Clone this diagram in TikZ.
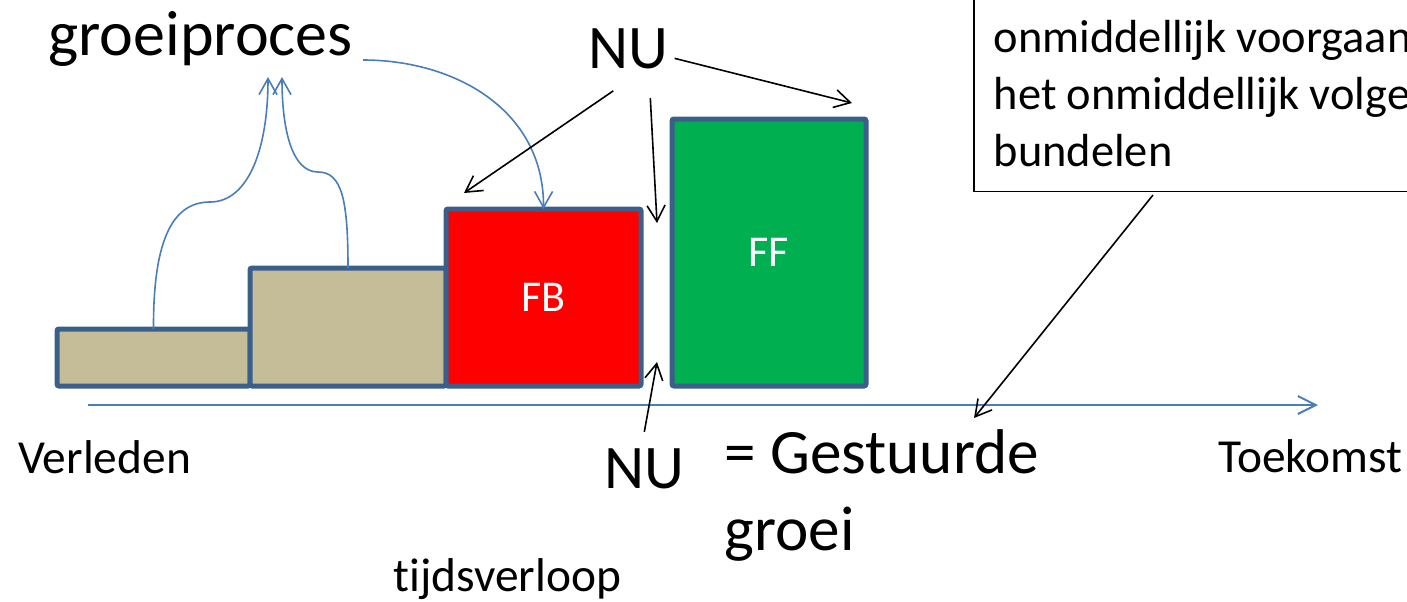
\documentclass[tikz,border=0pt]{standalone}
\usepackage{fontspec}
\setmainfont{Carlito}[Ligatures=NoCommon]
\usetikzlibrary{arrows.meta}
\definecolor{rand}{HTML}{3A5F8B}
\definecolor{zand}{HTML}{C4BD97}
\definecolor{rood}{HTML}{FF0000}
\definecolor{groen}{HTML}{00B050}
\definecolor{blauw}{HTML}{4A7EBB}
\tikzset{
  blok/.style={draw=rand, line width=2.5pt, rounded corners=1pt, inner sep=0pt, outer sep=0pt, text=white, font=\fontsize{22}{26}\selectfont},
  pijl/.style={draw=black, line width=0.8pt, -{Straight Barb[length=8pt,width=9pt]}},
  bpijl/.style={draw=blauw, line width=0.8pt, -{Straight Barb[length=8pt,width=9pt]}},
  tijdas/.style={draw=blauw, line width=1pt, -{Straight Barb[length=9pt,width=9pt]}},
  groot/.style={inner sep=0pt, font=\fontsize{31}{38.5}\selectfont},
  lbl/.style={inner sep=0pt, font=\fontsize{23.7}{28}\selectfont},
  kader/.style={draw=black, line width=0.75pt, inner xsep=10pt, inner ysep=12pt, text width=300pt, align=flush left, font=\fontsize{23.2}{28.5}\selectfont}
}

\begin{document}
\begin{tikzpicture}[x=0.5pt,y=-0.5pt]
  \useasboundingbox (0,0) rectangle (1407,601);
  \clip (0,0) rectangle (1407,601);

  % blokken
  \node[blok, fill=zand, minimum width=96.5pt, minimum height=28.5pt] (b1) at (153.5,357.5) {};
  \node[blok, fill=zand, minimum width=98pt, minimum height=59pt] (b2) at (348,327) {};
  \node[blok, fill=rood, minimum width=97.5pt, minimum height=88.5pt] (fb) at (543.5,297.5) {FB};
  \node[blok, fill=groen, minimum width=97pt, minimum height=133.5pt] (ff) at (769,252.5) {FF};

  % tijdas
  \coordinate (verleden) at (88,405);
  \coordinate (toekomst) at (1318,405);
  \draw[tijdas] (verleden) -- (toekomst);

  \node[lbl, anchor=base west] (lv) at (18,473) {Verleden};
  \node[lbl, anchor=base west] (lt) at (1218,472) {Toekomst};
  \node[lbl, anchor=base west] (tv) at (393,591) {tijdsverloop};

  \node[groot, anchor=base west, font=\fontsize{32}{38.5}\selectfont] (groei) at (48,55) {groeiproces};
  \node[groot, anchor=base west] (nuboven) at (588,68) {NU};
  \node[groot, anchor=base west] (nuonder) at (604,488) {NU};
  \node[groot, anchor=base west, align=left, font=\fontsize{31.6}{38.5}\selectfont] (gestuurd) at (724,550) {= Gestuurde\\groei};

  \node[kader, anchor=south west] (uitleg) at (973,192) {\mbox{}\\onmiddellijk voorgaan\\het onmiddellijk volge\\bundelen};

  % groeipijlen
  \draw[bpijl] (b1.north) .. controls (153,235) and (175,202) .. (210,202) .. controls (248,202) and (268,150) .. (268,77);
  \draw[bpijl] (b2.north) .. controls (348,200) and (342,172) .. (318,172) .. controls (292,172) and (282,130) .. (282,77);
  \draw[bpijl] ([shift={(10,5)}]groei.base east) .. controls (455,60) and (544,110) .. (fb.north);

  % NU-pijlen
  \coordinate (fbhoek) at (464,193);
  \coordinate (gatboven) at (657,223);
  \coordinate (gatonder) at (657,362);
  \coordinate (ffhoek) at (852,103);
  \coordinate (asmidden) at (974,418);
  \draw[pijl] ([shift={(-15,22)}]nuboven.south) -- (fbhoek);
  \draw[pijl] ([shift={(22,29)}]nuboven.south) -- (gatboven);
  \draw[pijl] ([shift={(6,10)}]nuboven.east) -- (ffhoek);
  \draw[pijl] ([shift={(0,-16)}]nuonder.north) -- (gatonder);
  \draw[pijl] ([shift={(180,3)}]uitleg.south west) -- (asmidden);
\end{tikzpicture}
\end{document}
